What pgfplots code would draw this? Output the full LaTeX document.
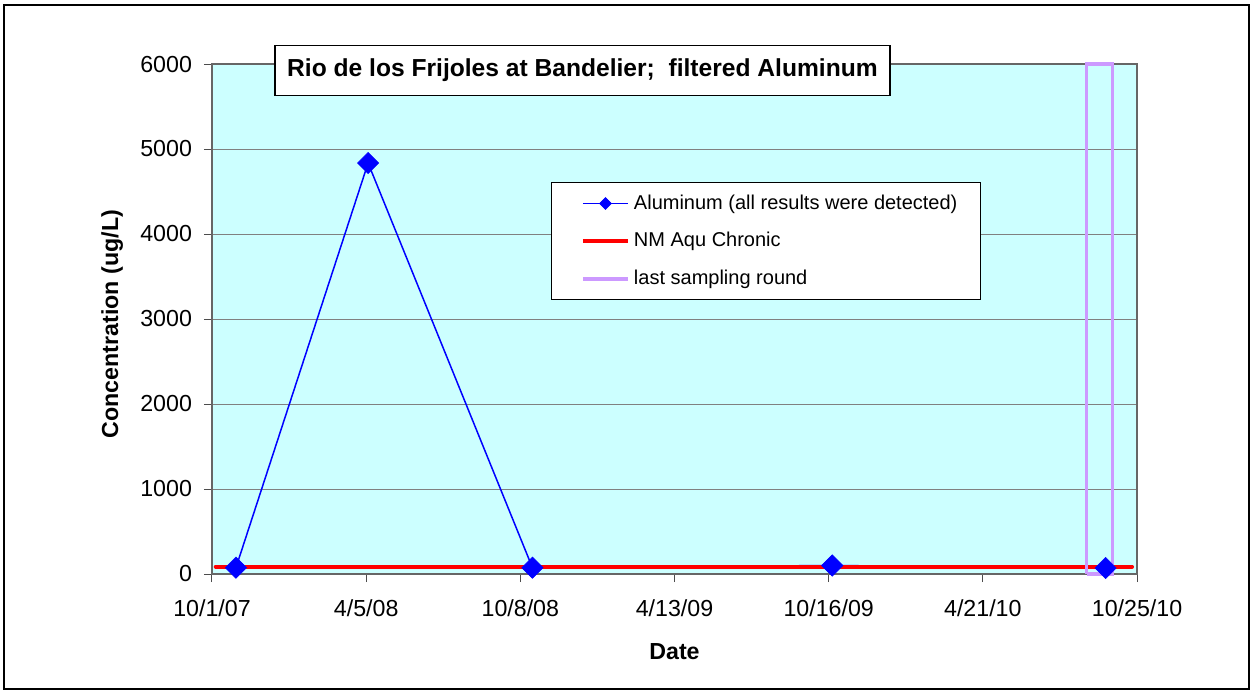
\documentclass[border=0pt]{standalone}
\usepackage{pgfplots}
\pgfplotsset{compat=1.18}
\usepackage{fontspec}
\setmainfont{Liberation Sans}
\definecolor{bgcyan}{RGB}{204,255,255}
\definecolor{lastpurple}{RGB}{204,153,255}
\definecolor{gridgray}{RGB}{128,128,128}
\begin{document}
\begin{tikzpicture}[x=1pt,y=1pt]
\useasboundingbox (0,0) rectangle (627,346);
\draw[black, line width=0.6pt] (2,1.5) rectangle (624.5,343.5);
\begin{axis}[
 at={(106pt,59pt)}, anchor=south west,
 scale only axis, width=462.5pt, height=255pt,
 xmin=0, xmax=1120, ymin=0, ymax=6000,
 clip=false,
 xtick={0,186.667,373.333,560,746.667,933.333,1120},
 xticklabels={10/1/07,4/5/08,10/8/08,4/13/09,10/16/09,4/21/10,10/25/10},
 ytick={0,1000,...,6000},
 xtick pos=bottom, ytick pos=left,
 ymajorgrids, grid style={gridgray, line width=0.5pt},
 tick align=outside, major tick length=4pt,
 tick style={black!70, line width=0.5pt},
 axis line style={black!60, line width=0.6pt},
 axis background/.style={fill=bgcyan},
 /pgf/number format/assume math mode=true,
 /pgf/number format/1000 sep={},
 ticklabel style={font=\fontsize{11.6}{13}\selectfont},
 yticklabel style={xshift=-2.5pt},
 xticklabel style={yshift=-5.5pt},
 xlabel={Date}, ylabel={Concentration (ug/L)},
 label style={font=\bfseries\fontsize{11.6}{13}\selectfont},
 xlabel style={at={(axis description cs:0.5,-0.153)}, anchor=center},
 ylabel style={at={(axis description cs:-0.108,0.49)}, anchor=center},
 every axis title shift=0pt,
 title={Rio de los Frijoles at Bandelier;\ \ filtered Aluminum},
 title style={at={(axis description cs:0.4005,0.988)}, anchor=center, draw=black, fill=white, line width=0.6pt, minimum width=307.5pt, minimum height=25pt, font=\bfseries\fontsize{12.3}{14}\selectfont},
 legend style={at={(axis description cs:0.367,0.768)}, anchor=north west, draw=black, fill=white, line width=0.5pt, font=\fontsize{10}{12}\selectfont, row sep=6pt, inner xsep=8pt, inner ysep=4pt},
 legend cell align=left,
 legend image code/.code={\path (0pt,0pt); \draw[mark repeat=2,mark phase=2,#1] plot coordinates {(6.5pt,0pt) (17.75pt,0pt) (29pt,0pt)};},
]
\addlegendimage{blue, line width=0.75pt, mark=square*, mark size=2.1pt, mark options={rotate=45, solid, line width=0.3pt}}
\addlegendentry{\makebox[163.5pt][l]{Aluminum (all results were detected)}}
\addlegendimage{red, line width=2pt}
\addlegendentry{NM Aqu Chronic}
\addlegendimage{lastpurple, line width=2pt}
\addlegendentry{last sampling round\rule[-4pt]{0pt}{1pt}}

\addplot[blue, line width=0.75pt, forget plot] coordinates {(29,74) (189,4835) (388,74) (751,100) (1082,70)};
\addplot[red, line width=2pt, line cap=round, forget plot] coordinates {(4.5,87) (1114,87)};
\addplot[lastpurple, line width=1.6pt, forget plot] coordinates {(1059,0) (1059,6000) (1090,6000) (1090,0) (1059,0)};
\addplot[blue, only marks, mark=square*, mark size=3.75pt, mark options={rotate=45, solid, line width=0.3pt}, forget plot] coordinates {(29,74) (189,4835) (388,74) (751,100) (1082,70)};
\end{axis}
\end{tikzpicture}
\end{document}
